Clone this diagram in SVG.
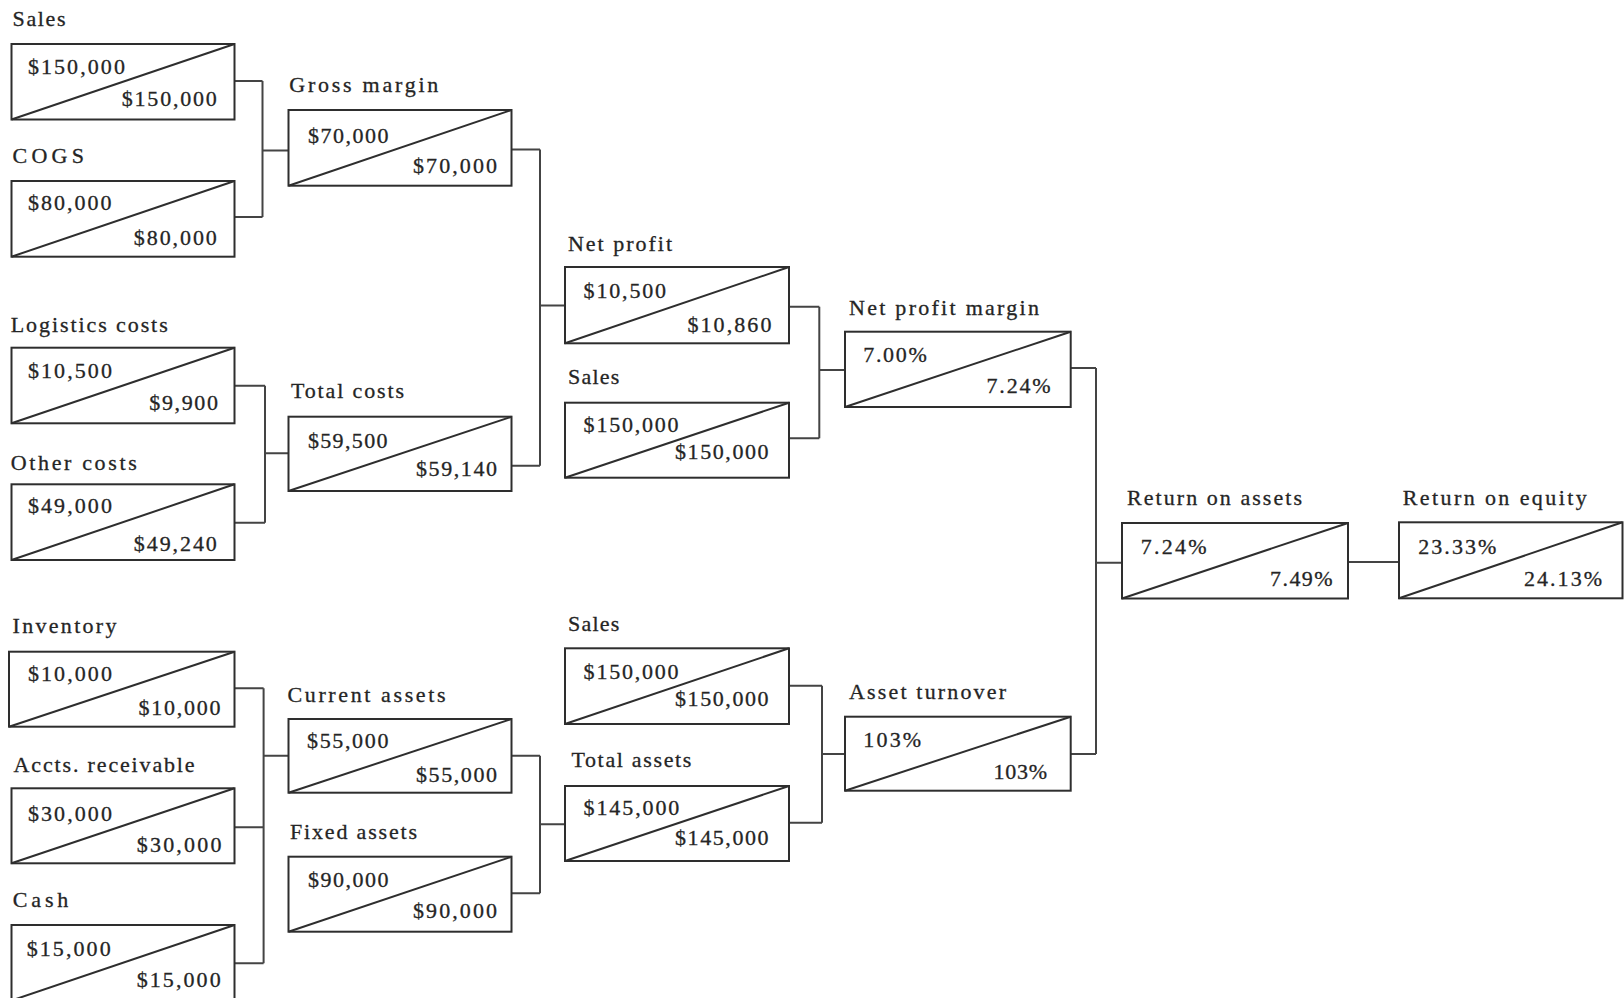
<svg xmlns="http://www.w3.org/2000/svg" width="1624" height="998" viewBox="0 0 1624 998">
<style>
.bx{fill:#fff;stroke:#2e2e2e;stroke-width:2}
.dg{stroke:#2e2e2e;stroke-width:2}
text{font-family:"Liberation Serif","Times New Roman",serif;font-size:22px;fill:#252525;stroke:#252525;stroke-width:0.3}
.r{text-anchor:end}
.cn{fill:none;stroke:#444;stroke-width:2}
</style>
<rect width="1624" height="998" fill="#fff"/>
<g id="connectors">
<path class="cn" d="M234.5,81H262.5M234.5,217H262.5M262.5,81V217M262.5,150.5H288.5"/>
<path class="cn" d="M234.5,385.7H265M234.5,522.7H265M265,385.7V522.7M265,453.3H288.5"/>
<path class="cn" d="M511.5,149.5H540M511.5,465.7H540M540,149.5V465.7M540,305.5H565"/>
<path class="cn" d="M789,306.7H819.3M789,438.3H819.3M819.3,306.7V438.3M819.3,370H845"/>
<path class="cn" d="M234.5,688.3H263.6M234.5,827.3H263.6M234.5,963.3H263.6M263.6,688.3V963.3M263.6,755.7H288.5"/>
<path class="cn" d="M511.5,755.7H540M511.5,893.3H540M540,755.7V893.3M540,824.3H565"/>
<path class="cn" d="M789,685.7H822M789,822.7H822M822,685.7V822.7M822,754H845"/>
<path class="cn" d="M1070.7,368H1096M1070.7,754H1096M1096,368V754M1096,562.7H1122"/>
<path class="cn" d="M1348,562H1399"/>
</g>
<g id="sales1">
<text x="12.5" y="26" textLength="53">Sales</text>
<rect class="bx" x="11.5" y="44" width="223" height="75.5"/>
<line class="dg" x1="11.5" y1="119.5" x2="234.5" y2="44"/>
<text x="27.9" y="74" textLength="97">$150,000</text>
<text class="r" x="216.8" y="106" textLength="95">$150,000</text>
</g>
<g id="cogs">
<text x="12.5" y="163" textLength="71.5">COGS</text>
<rect class="bx" x="11.5" y="181" width="223" height="75.7"/>
<line class="dg" x1="11.5" y1="256.7" x2="234.5" y2="181"/>
<text x="27.9" y="210" textLength="83.5">$80,000</text>
<text class="r" x="216.8" y="245" textLength="83">$80,000</text>
</g>
<g id="gross-margin">
<text x="289.3" y="92" textLength="149">Gross margin</text>
<rect class="bx" x="288.5" y="110" width="223" height="75.7"/>
<line class="dg" x1="288.5" y1="185.7" x2="511.5" y2="110"/>
<text x="307.9" y="143" textLength="80.7">$70,000</text>
<text class="r" x="497" y="172.7" textLength="84">$70,000</text>
</g>
<g id="logistics-costs">
<text x="10.7" y="331.7" textLength="157">Logistics costs</text>
<rect class="bx" x="11.5" y="347.7" width="223" height="75.6"/>
<line class="dg" x1="11.5" y1="423.3" x2="234.5" y2="347.7"/>
<text x="27.9" y="378" textLength="84">$10,500</text>
<text class="r" x="217.9" y="410" textLength="68.6">$9,900</text>
</g>
<g id="total-costs">
<text x="291" y="398.3" textLength="113">Total costs</text>
<rect class="bx" x="288.5" y="416.7" width="223" height="74.3"/>
<line class="dg" x1="288.5" y1="491" x2="511.5" y2="416.7"/>
<text x="307.9" y="448.3" textLength="79.6">$59,500</text>
<text class="r" x="497" y="476" textLength="81">$59,140</text>
</g>
<g id="other-costs">
<text x="10.7" y="469.5" textLength="126">Other costs</text>
<rect class="bx" x="11.5" y="484.3" width="223" height="75.7"/>
<line class="dg" x1="11.5" y1="560" x2="234.5" y2="484.3"/>
<text x="27.9" y="513.3" textLength="84">$49,000</text>
<text class="r" x="216.8" y="550.7" textLength="83">$49,240</text>
</g>
<g id="inventory">
<text x="12.5" y="633.3" textLength="104">Inventory</text>
<rect class="bx" x="9" y="651.7" width="225.5" height="75"/>
<line class="dg" x1="9" y1="726.7" x2="234.5" y2="651.7"/>
<text x="27.9" y="681" textLength="84">$10,000</text>
<text class="r" x="220.4" y="715" textLength="81.8">$10,000</text>
</g>
<g id="accts-receivable">
<text x="13.6" y="771.7" textLength="181">Accts. receivable</text>
<rect class="bx" x="11.5" y="788.3" width="223" height="75"/>
<line class="dg" x1="11.5" y1="863.3" x2="234.5" y2="788.3"/>
<text x="27.9" y="820.7" textLength="84">$30,000</text>
<text class="r" x="221.4" y="852.3" textLength="84.6">$30,000</text>
</g>
<g id="cash">
<text x="12.7" y="906.7" textLength="55.6">Cash</text>
<rect class="bx" x="11.5" y="925" width="223" height="75.5"/>
<line class="dg" x1="11.5" y1="1000.5" x2="234.5" y2="925"/>
<text x="26.7" y="956" textLength="84">$15,000</text>
<text class="r" x="220.7" y="987.3" textLength="84">$15,000</text>
</g>
<g id="current-assets">
<text x="287.5" y="701.7" textLength="158">Current assets</text>
<rect class="bx" x="288.5" y="719" width="223" height="73.7"/>
<line class="dg" x1="288.5" y1="792.7" x2="511.5" y2="719"/>
<text x="307" y="748.3" textLength="81.4">$55,000</text>
<text class="r" x="497" y="781.7" textLength="81">$55,000</text>
</g>
<g id="fixed-assets">
<text x="290" y="839.3" textLength="127">Fixed assets</text>
<rect class="bx" x="288.5" y="856.7" width="223" height="75"/>
<line class="dg" x1="288.5" y1="931.7" x2="511.5" y2="856.7"/>
<text x="307.9" y="886.7" textLength="80.7">$90,000</text>
<text class="r" x="497" y="918.3" textLength="84">$90,000</text>
</g>
<g id="net-profit">
<text x="568" y="250.7" textLength="104">Net profit</text>
<rect class="bx" x="565" y="267" width="224" height="76.3"/>
<line class="dg" x1="565" y1="343.3" x2="789" y2="267"/>
<text x="583.6" y="298.3" textLength="82.5">$10,500</text>
<text class="r" x="771.4" y="331.7" textLength="84">$10,860</text>
</g>
<g id="sales2">
<text x="568" y="384" textLength="51.4">Sales</text>
<rect class="bx" x="565" y="402.7" width="224" height="75"/>
<line class="dg" x1="565" y1="477.7" x2="789" y2="402.7"/>
<text x="583.6" y="431.7" textLength="95">$150,000</text>
<text class="r" x="768.6" y="459.3" textLength="93.6">$150,000</text>
</g>
<g id="sales3">
<text x="568" y="630.7" textLength="51.4">Sales</text>
<rect class="bx" x="565" y="648.3" width="224" height="75.7"/>
<line class="dg" x1="565" y1="724" x2="789" y2="648.3"/>
<text x="583.6" y="679.3" textLength="95">$150,000</text>
<text class="r" x="768.6" y="706" textLength="93.6">$150,000</text>
</g>
<g id="total-assets">
<text x="571.4" y="767.3" textLength="120">Total assets</text>
<rect class="bx" x="565" y="786" width="224" height="75"/>
<line class="dg" x1="565" y1="861" x2="789" y2="786"/>
<text x="583.6" y="815" textLength="95.7">$145,000</text>
<text class="r" x="768.6" y="845" textLength="93.6">$145,000</text>
</g>
<g id="net-profit-margin">
<text x="849" y="315" textLength="190">Net profit margin</text>
<rect class="bx" x="845" y="331.7" width="225.7" height="75.3"/>
<line class="dg" x1="845" y1="407" x2="1070.7" y2="331.7"/>
<text x="863.2" y="361.7" textLength="63.6">7.00%</text>
<text class="r" x="1050.7" y="393.3" textLength="64.3">7.24%</text>
</g>
<g id="asset-turnover">
<text x="849" y="699.3" textLength="157">Asset turnover</text>
<rect class="bx" x="845" y="716.7" width="225.7" height="74"/>
<line class="dg" x1="845" y1="790.7" x2="1070.7" y2="716.7"/>
<text x="863.2" y="746.7" textLength="58">103%</text>
<text class="r" x="1047" y="779.3" textLength="53.6">103%</text>
</g>
<g id="return-on-assets">
<text x="1127" y="505" textLength="175">Return on assets</text>
<rect class="bx" x="1122" y="523" width="226" height="75.5"/>
<line class="dg" x1="1122" y1="598.5" x2="1348" y2="523"/>
<text x="1140.7" y="554" textLength="66">7.24%</text>
<text class="r" x="1332.6" y="586" textLength="62.5">7.49%</text>
</g>
<g id="return-on-equity">
<text x="1402.7" y="505" textLength="184">Return on equity</text>
<rect class="bx" x="1399" y="522.3" width="223.5" height="76"/>
<line class="dg" x1="1399" y1="598.3" x2="1622.5" y2="522.3"/>
<text x="1418.3" y="554" textLength="78">23.33%</text>
<text class="r" x="1602" y="586" textLength="78">24.13%</text>
</g>
</svg>
